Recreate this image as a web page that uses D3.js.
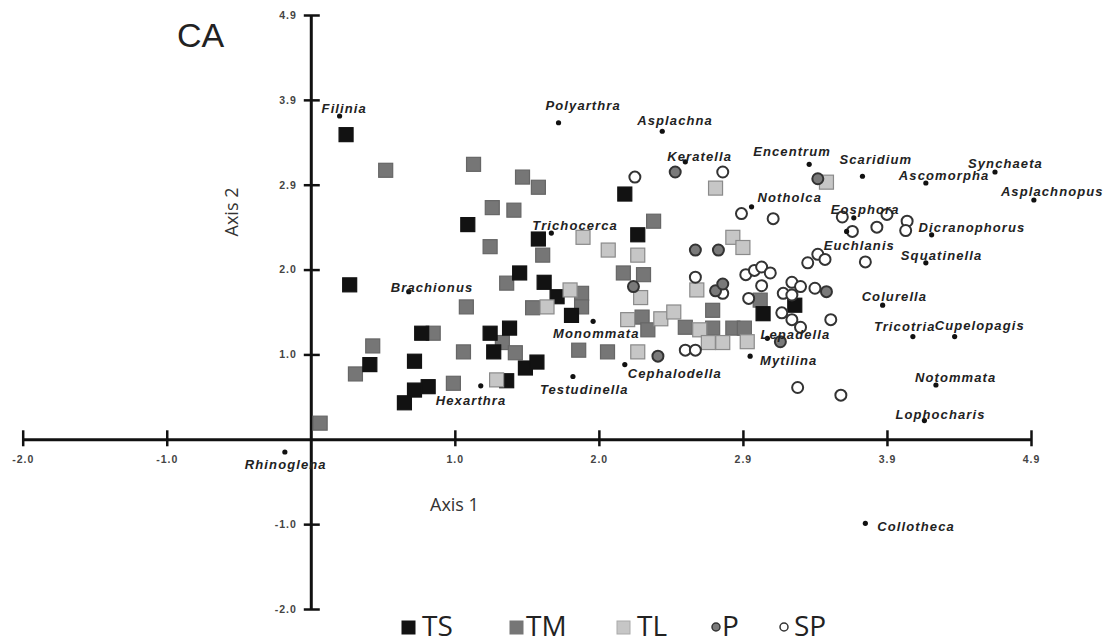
<!DOCTYPE html>
<html>
<head>
<meta charset="utf-8">
<script src="https://cdn.jsdelivr.net/npm/d3@7"></script>
<style>
  body { margin: 0; background: #fff; }
  svg { display: block; }
</style>
</head>
<body>
<svg id="ca"></svg>
<script>
// axis ticks, labels as printed on the figure
const tickValues = [-2, -1, 1, 2, 3, 4, 5];
const tickLabels = ['-2.0', '-1.0', '1.0', '2.0', '2.9', '3.9', '4.9'];

// sample scores, [axis1, axis2]
const TS = [[0.245,3.59],[1.09,2.53],[0.27,1.82],[0.77,1.25],[1.245,1.25],[0.41,0.88],[0.72,0.92],
  [1.27,1.03],[0.815,0.62],[0.72,0.58],[0.65,0.43],[1.36,0.69],[2.18,2.89],[1.58,2.36],[2.27,2.41],
  [1.45,1.96],[1.62,1.85],[1.71,1.68],[1.81,1.46],[1.38,1.31],[1.49,0.84],[1.57,0.91],[3.14,1.48],[3.36,1.58]];
const TM = [[0.52,3.17],[1.13,3.24],[1.26,2.73],[1.245,2.27],[1.08,1.56],[0.85,1.25],[0.43,1.10],[0.31,0.77],
  [1.06,1.03],[0.99,0.66],[0.065,0.19],[1.47,3.09],[1.58,2.97],[1.41,2.70],[2.38,2.57],[1.61,2.17],[1.36,1.84],
  [2.17,1.96],[2.31,1.94],[1.88,1.72],[1.88,1.56],[1.54,1.55],[2.30,1.44],[2.34,1.29],[2.60,1.32],[1.33,1.14],
  [1.42,1.02],[1.86,1.05],[2.06,1.03],[2.79,1.31],[2.93,1.31],[2.79,1.52],[3.12,1.64],[3.01,1.31]];
const TL = [[1.29,0.70],[1.89,2.38],[2.065,2.23],[2.27,2.17],[1.80,1.76],[1.64,1.56],[2.29,1.67],[2.20,1.41],
  [2.43,1.42],[2.52,1.50],[2.27,1.03],[2.81,2.96],[2.93,2.38],[3.00,2.26],[2.68,1.76],[2.70,1.29],[2.76,1.14],
  [2.86,1.14],[3.03,1.15],[3.58,3.03]];
const P = [[2.24,1.80],[2.41,0.98],[2.53,3.15],[2.67,2.23],[2.83,2.23],[2.81,1.75],[2.86,1.83],[3.52,3.07],
  [3.58,1.74],[3.26,1.15]];
const SP = [[2.25,3.09],[2.86,3.15],[2.99,2.66],[3.21,2.60],[3.69,2.62],[3.76,2.45],[3.93,2.50],[4.00,2.65],
  [4.14,2.57],[4.13,2.46],[3.45,2.08],[3.52,2.18],[3.57,2.12],[3.85,2.09],[3.02,1.94],[3.08,1.99],[3.13,2.03],
  [3.19,1.96],[3.13,1.81],[3.04,1.66],[2.86,1.72],[2.67,1.91],[3.34,1.85],[3.40,1.80],[3.28,1.72],[3.34,1.70],
  [3.27,1.49],[3.34,1.41],[3.40,1.32],[3.50,1.78],[3.61,1.41],[3.38,0.61],[3.68,0.52],[2.60,1.05],[2.67,1.05]];

// species scores
const speciesNames = ['Filinia','Polyarthra','Asplachna','Keratella','Encentrum','Scaridium','Synchaeta',
  'Ascomorpha','Asplachnopus','Notholca','Trichocerca','Eosphora','Dicranophorus','Euchlanis','Squatinella',
  'Colurella','Tricotria','Cupelopagis','Notommata','Lophocharis','Collotheca','Lepadella','Mytilina',
  'Monommata','Cephalodella','Testudinella','Hexarthra','Brachionus','Rhinoglena'];
const speciesX = [0.20,1.72,2.44,2.60,3.46,3.83,4.75,4.27,5.02,3.06,1.67,3.77,4.31,3.72,4.27,3.97,4.18,4.47,
  4.34,4.26,3.85,3.17,3.05,1.96,2.18,1.82,1.18,0.68,-0.18];
const speciesY = [3.81,3.73,3.63,3.27,3.24,3.10,3.15,3.02,2.82,2.74,2.43,2.61,2.41,2.45,2.08,1.58,1.21,1.21,
  0.64,0.22,-0.99,1.19,0.98,1.39,0.88,0.74,0.63,1.74,-0.15];

const legendNames = ['TS', 'TM', 'TL', 'P', 'SP'];

const width = 1109, height = 644;
const svg = d3.select('#ca').attr('width', width).attr('height', height);

const x = d3.scaleLinear().domain([-2, 5]).range([22.7, 1031]);
const y = d3.scaleLinear().domain([-2, 5]).range([609, 15]);
const fmt = d => tickLabels[tickValues.indexOf(d)];

// axes through the origin
const gx = svg.append('g').attr('transform', 'translate(0,' + y(0) + ')')
  .call(d3.axisBottom(x).tickValues(tickValues).tickFormat(fmt).tickSizeOuter(0).tickPadding(10));
const gy = svg.append('g').attr('transform', 'translate(' + x(0) + ',0)')
  .call(d3.axisLeft(y).tickValues(tickValues).tickFormat(fmt).tickSizeOuter(0).tickPadding(8));

[gx, gy].forEach(g => {
  g.select('.domain').attr('stroke', '#111').attr('stroke-width', 3);
  g.selectAll('.tick line').attr('stroke', '#111').attr('stroke-width', 2.5);
  g.selectAll('.tick text').attr('fill', '#444').style('font-family', 'Liberation Sans, Arial, sans-serif')
    .style('font-size', '10.5px').style('font-weight', 'bold').style('letter-spacing', '1px');
});
gx.selectAll('.tick line').attr('y1', -9).attr('y2', 7);
gy.selectAll('.tick line').attr('x1', -7).attr('x2', 9);

// sample marks
const sq = 14;
function squares(data, fill, stroke) {
  svg.append('g').selectAll('rect').data(data).enter().append('rect')
    .attr('x', d => x(d[0]) - sq / 2).attr('y', d => y(d[1]) - sq / 2)
    .attr('width', sq).attr('height', sq)
    .attr('fill', fill).attr('stroke', stroke).attr('stroke-width', 1.2);
}
squares(TM, '#767676', '#666');
squares(TS, '#121212', '#121212');
squares(TL, '#c6c6c6', '#8a8a8a');

svg.append('g').selectAll('circle').data(SP).enter().append('circle')
  .attr('cx', d => x(d[0])).attr('cy', d => y(d[1])).attr('r', 5.5)
  .attr('fill', '#fff').attr('stroke', '#333').attr('stroke-width', 2);
svg.append('g').selectAll('circle').data(P).enter().append('circle')
  .attr('cx', d => x(d[0])).attr('cy', d => y(d[1])).attr('r', 5.5)
  .attr('fill', '#7a7a7a').attr('stroke', '#333').attr('stroke-width', 2);

// species: dot + italic name, name placed by hand around its dot
const labelShift = {
  Filinia:[-18,-7], Polyarthra:[-13,-17], Asplachna:[-25,-10], Keratella:[-18,-5], Encentrum:[-56,-12],
  Scaridium:[-23,-16], Synchaeta:[-27,-8], Ascomorpha:[-27,-7], Asplachnopus:[-33,-8], Notholca:[6,-9],
  Trichocerca:[-19,-7], Eosphora:[-23,-8], Dicranophorus:[-13,-7], Euchlanis:[-23,15], Squatinella:[-25,-7],
  Colurella:[-21,-8], Tricotria:[-39,-10], Cupelopagis:[-20,-11], Notommata:[-21,-7], Lophocharis:[-29,-6],
  Collotheca:[12,4], Lepadella:[-7,-3], Mytilina:[10,5], Monommata:[-40,13], Cephalodella:[3,9],
  Testudinella:[-33,14], Hexarthra:[-45,15], Brachionus:[-18,-4], Rhinoglena:[-40,13]
};
const sp = svg.append('g');
sp.selectAll('circle').data(speciesNames).enter().append('circle')
  .attr('cx', (d, i) => x(speciesX[i])).attr('cy', (d, i) => y(speciesY[i])).attr('r', 2.6)
  .attr('fill', '#111');
sp.selectAll('text').data(speciesNames).enter().append('text')
  .attr('x', (d, i) => x(speciesX[i]) + labelShift[d][0])
  .attr('y', (d, i) => y(speciesY[i]) + labelShift[d][1] + 4)
  .text(d => d)
  .attr('fill', '#222')
  .style('font-family', 'Liberation Sans, Arial, sans-serif')
  .style('font-size', '13px').style('font-weight', 'bold').style('font-style', 'italic')
  .style('letter-spacing', '1.1px');

// titles
svg.append('text').attr('x', 177).attr('y', 47).text('CA')
  .attr('fill', '#222').style('font-family', 'Liberation Sans, Arial, sans-serif').style('font-size', '34px');
svg.append('text').attr('x', 430).attr('y', 511).text('Axis 1')
  .attr('fill', '#333').style('font-family', 'Open Sans, sans-serif').style('font-size', '18px');
svg.append('text').attr('transform', 'translate(238,212) rotate(-90)').attr('text-anchor', 'middle')
  .text('Axis 2').attr('fill', '#333').style('font-family', 'Open Sans, sans-serif').style('font-size', '18px');

// legend
const legX = [402, 510, 617, 716, 784];
const legFill = ['#121212', '#767676', '#c6c6c6', '#7a7a7a', '#fff'];
const leg = svg.append('g');
legendNames.forEach((name, i) => {
  const item = leg.append('g').attr('transform', 'translate(' + legX[i] + ',627)');
  if (i < 3) {
    item.append('rect').attr('x', 0).attr('y', -6).attr('width', 13).attr('height', 13)
      .attr('fill', legFill[i]).attr('stroke', i == 2 ? '#aaa' : legFill[i]);
  } else {
    item.append('circle').attr('cx', 0).attr('cy', 0).attr('r', 4)
      .attr('fill', legFill[i]).attr('stroke', '#333').attr('stroke-width', 1.5);
  }
  item.append('text').attr('x', i < 3 ? (i == 1 ? 16 : 20) : (i == 3 ? 6 : 10)).attr('y', 9).text(name)
    .attr('fill', '#222').style('font-family', 'Open Sans, sans-serif').style('font-size', '28px');
});
</script>
</body>
</html>
